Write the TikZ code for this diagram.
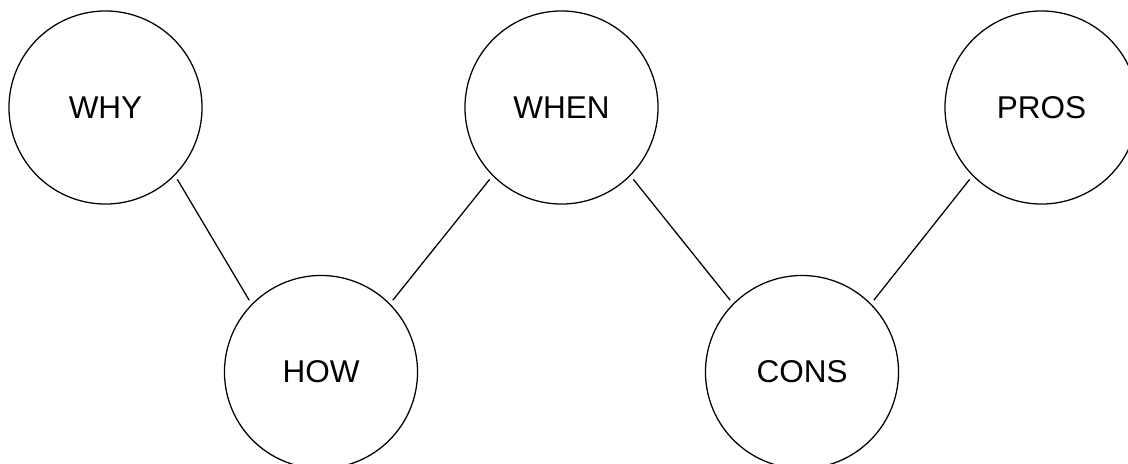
\documentclass[tikz,border=0pt]{standalone}
\usepackage{fontspec}
\setmainfont{Liberation Sans}
\usepackage{tikz}
\usetikzlibrary{positioning}
\tikzstyle{topic}=[circle, draw, line width = .9pt, minimum size = 4.825 cm, inner sep = 0 cm, outer sep = .125 cm, font = \fontsize{22.4pt}{26pt}\selectfont]
\tikzstyle{link}=[line width = .9pt]

\begin{document}
\begin{tikzpicture}[x = .025cm, y = -.025cm]
  \useasboundingbox (0,0) rectangle (1128,463);
  \node[topic] (why) at (105.5,107.5) {WHY};
  \node[topic] (when) at (561.5,107.5) {WHEN};
  \node[topic] (pros) at (1041.5,107.5) {PROS};
  \node[topic] (how) at (321,372) {HOW};
  \node[topic] (cons) at (802,372) {CONS};
  \draw[link] (why.-45) -- (how.135);
  \draw[link] (how.45) -- (when.-135);
  \draw[link] (when.-45) -- (cons.135);
  \draw[link] (cons.45) -- (pros.-135);
\end{tikzpicture}
\end{document}
